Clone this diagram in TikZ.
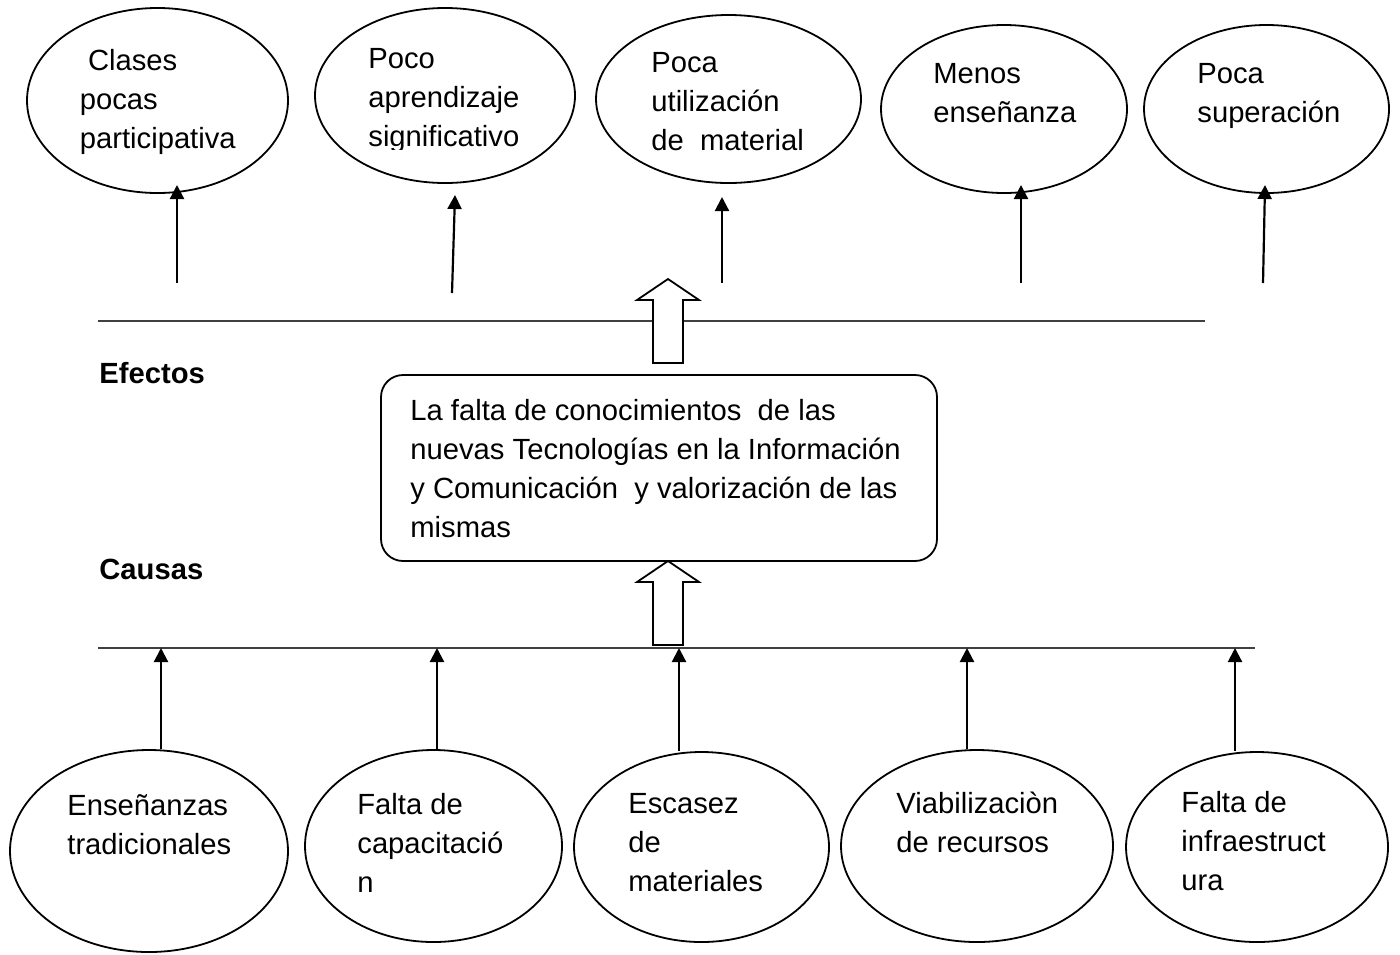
\documentclass[tikz,border=0pt]{standalone}
\usepackage{fontspec}
\setmainfont{Liberation Sans}
\usetikzlibrary{shapes.geometric,arrows.meta}
\begin{document}
\begin{tikzpicture}[x=0.5pt,y=-0.5pt,
  oval/.style={draw,ellipse,line width=0.9pt,inner sep=0pt},
  txt/.style={align=left,inner sep=0pt,anchor=base west,font=\fontsize{14.6pt}{19.35pt}\selectfont},
  lbl/.style={inner sep=0pt,anchor=base west,font=\fontsize{14.6pt}{19.35pt}\selectfont\bfseries},
  arr/.style={line width=1.1pt,-{Triangle[length=7pt,width=7pt]}},
  rule/.style={line width=0.8pt,black!75},
  blockarrow/.style={draw,fill=white,line width=0.9pt,line join=miter}]
\useasboundingbox (0,0) rectangle (1400,954);
% top ellipses (effects)
\node[oval,minimum width=130.5pt,minimum height=92.5pt] (t1) at (157.5,100.5) {};
\node[oval,minimum width=130pt,minimum height=87.5pt] (t2) at (445,95.5) {};
\node[oval,minimum width=132.5pt,minimum height=84pt] (t3) at (728.5,99) {};
\node[oval,minimum width=123pt,minimum height=84pt] (t4) at (1004,109) {};
\node[oval,minimum width=122.5pt,minimum height=84pt] (t5) at (1266.5,109) {};
% (anchor = baseline of the last line)
\node[txt] (tt1) at (79.5,148) {\hspace*{0.278em}Clases\\pocas\\participativa};
\begin{scope}
\clip (300,0) rectangle (600,149);
\node[txt] (tt2) at (368,146) {Poco\\aprendizaje\\significativo};
\end{scope}
\node[txt] (tt3) at (651,150) {Poca\\utilización\\de\ \ material};
\node[txt] (tt4) at (933,122) {Menos\\enseñanza};
\node[txt] (tt5) at (1197,122) {Poca\\superación};
% top arrows
\coordinate (a1b) at (177,283); \coordinate (a1t) at (177,185);
\coordinate (a2b) at (452,293); \coordinate (a2t) at (455,195);
\coordinate (a3b) at (722,283); \coordinate (a3t) at (722,197);
\coordinate (a4b) at (1021,283); \coordinate (a4t) at (1021,185);
\coordinate (a5b) at (1263,283); \coordinate (a5t) at (1265,185);
\foreach \i in {1,...,5} \draw[arr] (a\i b) -- (a\i t);
% horizontal rules
\coordinate (l1a) at (98,321); \coordinate (l1b) at (1205,321);
\coordinate (l2a) at (98,648); \coordinate (l2b) at (1255,648);
\draw[rule] (l1a) -- (l1b);
\draw[rule] (l2a) -- (l2b);
% labels
\node[lbl] (efectos) at (99,383) {Efectos};
\node[lbl] (causas) at (99,579) {Causas};
% central box
\node[draw,line width=0.9pt,rounded corners=11pt,minimum width=278pt,minimum height=93pt,inner sep=0pt] (box) at (659,468) {};
\node[txt] (boxt) at (410,537) {La falta de conocimientos\ \ de las\\nuevas Tecnologías en la Información\\y Comunicación\ \ y valorización de las\\mismas};
% block arrows
\draw[blockarrow] (668,279) -- (699,300) -- (683,300) -- (683,363) -- (653,363) -- (653,300) -- (637,300) -- cycle;
\draw[blockarrow] (668,561) -- (699,582) -- (683,582) -- (683,645) -- (653,645) -- (653,582) -- (637,582) -- cycle;
% bottom ellipses (causes)
\node[oval,minimum width=139pt,minimum height=101pt] (b1) at (149,851) {};
\node[oval,minimum width=128.5pt,minimum height=96pt] (b2) at (433.5,846) {};
\node[oval,minimum width=127.5pt,minimum height=95pt] (b3) at (701.5,847) {};
\node[oval,minimum width=136pt,minimum height=96pt] (b4) at (977,846) {};
\node[oval,minimum width=131pt,minimum height=95pt] (b5) at (1257,847) {};
\node[txt] (bt1) at (67,854) {Enseñanzas\\tradicionales};
\node[txt] (bt2) at (357,892) {Falta de\\capacitació\\n};
\node[txt] (bt3) at (628,891) {Escasez\\de\\materiales};
\node[txt] (bt4) at (896,852) {Viabilizaciòn\\de recursos};
\node[txt] (bt5) at (1181,890) {Falta de\\infraestruct\\ura};
% bottom arrows
\coordinate (c1) at (161,648);
\coordinate (c2) at (437,648);
\coordinate (c3) at (679,648);
\coordinate (c4) at (967,648);
\coordinate (c5) at (1235,648);
\foreach \i in {1,...,5} \draw[arr] (b\i.north -| c\i) -- (c\i);
\end{tikzpicture}
\end{document}
